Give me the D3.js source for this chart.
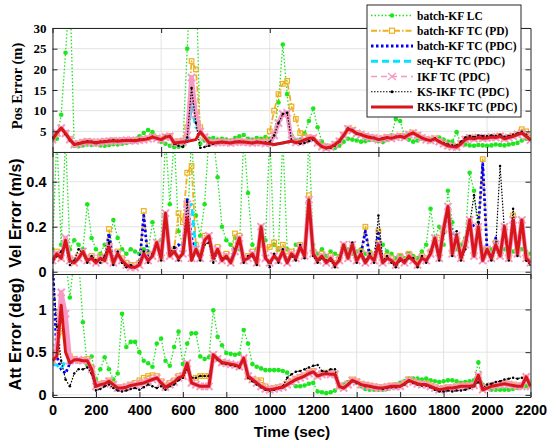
<!DOCTYPE html>
<html><head><meta charset="utf-8">
<script src="https://cdn.jsdelivr.net/npm/d3@7"></script>
<style>body{margin:0;background:#fff} svg{display:block}</style>
</head><body>
<svg id="c" width="550" height="446"></svg>
<script>
// ---------------- DATA (sampled every 20 s, t = 0 ... 2200) ----------------
const sampleTimes = d3.range(0, 2201, 20);
const timeTicks = [0,200,400,600,800,1000,1200,1400,1600,1800,2000,2200];
const coarseTimeTicks = [0,500,1000,1500,2000];
const posTicks = [0,5,10,15,20,25,30];
const velTicks = [0,0.2,0.4];
const attTicks = [0,0.5,1];
const legendLabels = ['batch-KF LC','batch-KF TC (PD)','batch-KF TC (PDC)','seq-KF TC (PDC)','IKF TC (PDC)','KS-IKF TC (PDC)','RKS-IKF TC (PDC)'];

// Position error (m)
const lcPos = [3.0,3.2,9.0,24,40,1.5,1.4,1.6,1.8,1.7,
 1.8,1.6,1.5,1.7,1.9,1.8,2.0,2.2,2.5,3.0,
 3.8,4.6,5.3,4.8,3.5,2.5,2.0,1.5,1.2,1.3,
 1.5,25,45,45,2.0,2.8,3.2,3.4,3.0,3.2,
 3.0,2.8,3.4,3.8,4.1,3.2,3.0,3.4,3.2,3.6,
 3.2,4.0,12,26,14,4.0,2.8,3.0,4.5,7.5,
 10.5,6.0,2.5,1.5,1.2,1.0,1.5,2.5,3.2,3.0,
 2.8,2.5,2.6,2.9,3.0,2.6,2.4,3.0,4.0,8.0,
 7.5,4.0,3.0,2.5,2.8,3.2,3.0,2.6,3.0,3.5,
 3.0,2.5,2.5,4.8,2.0,1.8,1.6,1.5,1.7,1.6,
 1.5,1.6,1.8,1.7,1.6,1.8,2.0,2.2,2.8,3.2,
 3.0];
const pdPos = [3.2,4.5,5.6,4.6,3.2,2.0,2.1,2.4,2.6,2.5,
 2.3,2.5,2.6,2.7,2.8,2.7,2.8,2.9,2.9,2.8,
 3.0,3.1,3.3,3.7,3.4,3.1,3.7,3.9,2.5,2.6,
 2.8,6.0,22,20,6.0,3.6,2.4,2.3,2.4,2.5,
 2.4,2.3,2.5,2.6,2.5,2.4,2.3,2.5,2.4,2.6,
 5.0,10,14,16.5,17.2,11,8.0,4.6,3.8,3.5,
 3.4,2.3,1.4,1.1,1.3,1.9,2.7,4.1,5.7,5.3,
 4.6,4.3,3.9,3.6,3.5,3.1,3.3,3.6,3.4,3.7,
 3.9,3.6,4.3,4.7,4.1,3.5,3.1,2.9,3.3,2.6,
 2.1,1.6,1.4,1.3,2.1,3.1,3.5,3.3,3.6,3.4,
 3.5,3.7,3.6,3.9,3.3,3.6,3.9,4.3,5.5,5.0,
 3.5];
const batchPos = [3.0,4.6,5.8,4.5,3.0,1.8,2.0,2.3,2.5,2.4,
 2.2,2.4,2.5,2.6,2.7,2.6,2.7,2.8,2.8,2.7,
 2.9,3.0,3.2,3.6,3.3,3.0,3.6,3.8,2.2,2.3,
 2.4,3.0,13,8.0,4.9,3.6,2.3,2.2,2.3,2.4,
 2.3,2.2,2.4,2.5,2.4,2.3,2.2,2.4,2.3,2.1,
 2.0,1.8,2.0,2.2,2.4,2.6,2.3,2.5,2.9,3.3,
 3.4,2.2,1.3,1.0,1.2,1.8,2.6,4.0,5.6,5.2,
 4.5,4.2,3.8,3.5,3.4,3.0,3.2,3.5,3.3,3.6,
 3.8,3.5,4.2,4.6,4.0,3.4,3.0,2.8,3.2,2.5,
 2.0,1.5,1.3,1.2,2.0,3.0,3.4,3.2,3.5,3.3,
 3.4,3.6,3.5,3.8,3.2,3.5,3.8,4.2,4.6,3.8,
 2.9];
const seqPos = [3.0,4.6,5.8,4.5,3.0,1.8,2.0,2.3,2.5,2.4,
 2.2,2.4,2.5,2.6,2.7,2.6,2.7,2.8,2.8,2.7,
 2.9,3.0,3.2,3.6,3.3,3.0,3.6,3.8,2.2,2.3,
 2.4,3.0,11,6.0,4.9,3.6,2.3,2.2,2.3,2.4,
 2.3,2.2,2.4,2.5,2.4,2.3,2.2,2.4,2.3,2.1,
 2.0,1.8,2.0,2.2,2.4,2.6,2.3,2.5,2.9,3.3,
 3.4,2.2,1.3,1.0,1.2,1.8,2.6,4.0,5.6,5.2,
 4.5,4.2,3.8,3.5,3.4,3.0,3.2,3.5,3.3,3.6,
 3.8,3.5,4.2,4.6,4.0,3.4,3.0,2.8,3.2,2.5,
 2.0,1.5,1.3,1.2,2.0,3.0,3.4,3.2,3.5,3.3,
 3.4,3.6,3.5,3.8,3.2,3.5,3.8,4.2,4.6,3.8,
 2.9];
const ikfPos = [3.0,4.6,5.8,4.5,3.0,1.8,2.0,2.3,2.5,2.4,
 2.2,2.4,2.5,2.6,2.7,2.6,2.7,2.8,2.8,2.7,
 2.9,3.0,3.2,3.6,3.3,3.0,3.6,3.8,2.2,2.3,
 2.4,4.0,18,9.0,4.9,3.6,2.3,2.2,2.3,2.4,
 2.3,2.2,2.4,2.5,2.4,2.3,2.2,2.4,2.3,2.1,
 2.2,4.0,7.0,9.2,9.5,2.8,2.3,2.5,2.9,3.3,
 3.4,2.2,1.3,1.0,1.2,1.8,2.6,4.0,5.6,5.2,
 4.5,4.2,3.8,3.5,3.4,3.0,3.2,3.5,3.3,3.6,
 3.8,3.5,4.2,4.6,4.0,3.4,3.0,2.8,3.2,2.5,
 2.0,1.5,1.3,1.2,2.0,3.0,3.4,3.2,3.5,3.3,
 3.4,3.6,3.5,3.8,3.2,3.5,3.8,4.2,4.6,3.8,
 2.9];
const ksPos = [3.5,4.8,5.6,4.3,2.8,1.8,2.1,2.4,2.6,2.5,
 2.3,2.5,2.6,2.7,2.9,2.7,2.8,2.9,2.9,2.8,
 3.0,3.1,3.3,3.7,3.4,3.1,3.7,3.9,2.0,1.5,
 1.2,3.5,15.5,7.0,1.0,1.2,1.5,2.0,2.2,2.4,
 2.3,2.2,2.4,2.5,2.4,2.3,2.2,2.4,2.3,2.3,
 2.4,4.0,7.0,9.2,9.5,2.8,2.3,2.0,2.2,2.6,
 3.0,2.2,1.3,0.9,1.0,1.6,2.5,4.0,5.7,5.3,
 4.5,4.2,3.9,3.6,3.4,3.1,3.3,3.5,3.4,3.7,
 3.8,3.5,4.2,4.6,4.0,3.4,3.0,2.8,3.3,2.6,
 2.2,1.8,1.6,1.6,2.5,3.5,3.9,3.6,4.0,3.9,
 3.8,4.0,3.9,4.2,3.7,3.9,4.2,4.5,4.9,4.2,
 3.0];
const rksPos = [3.0,4.6,5.8,4.5,3.0,1.8,2.0,2.3,2.5,2.4,
 2.2,2.4,2.5,2.6,2.7,2.6,2.7,2.8,2.8,2.7,
 2.9,3.0,3.2,3.6,3.3,3.0,3.6,3.8,2.2,2.3,
 2.4,2.5,2.8,3.0,4.9,3.6,2.3,2.2,2.3,2.4,
 2.3,2.2,2.4,2.5,2.4,2.3,2.2,2.4,2.3,2.1,
 2.0,1.8,2.0,2.2,2.4,2.6,2.3,2.5,2.9,3.3,
 3.4,2.2,1.3,1.0,1.2,1.8,2.6,4.0,5.6,5.2,
 4.5,4.2,3.8,3.5,3.4,3.0,3.2,3.5,3.3,3.6,
 3.8,3.5,4.2,4.6,4.0,3.4,3.0,2.8,3.2,2.5,
 2.0,1.5,1.3,1.2,2.0,3.0,3.4,3.2,3.5,3.3,
 3.4,3.6,3.5,3.8,3.2,3.5,3.8,4.2,4.6,3.8,
 2.9];

// Velocity error (m/s)
const lcVel = [0.10,0.60,0.12,0.60,0.10,0.14,0.12,0.10,0.30,0.15,
 0.10,0.08,0.12,0.10,0.23,0.15,0.10,0.08,0.10,0.09,
 0.08,0.10,0.09,0.22,0.12,0.14,0.60,0.30,0.60,0.18,
 0.12,0.18,0.60,0.25,0.16,0.30,0.60,0.60,0.42,0.20,
 0.14,0.12,0.15,0.10,0.60,0.35,0.12,0.10,0.20,0.14,
 0.60,0.12,0.10,0.60,0.10,0.08,0.12,0.10,0.09,0.60,
 0.12,0.08,0.10,0.07,0.09,0.08,0.07,0.09,0.10,0.08,
 0.09,0.10,0.08,0.09,0.07,0.10,0.12,0.09,0.08,0.06,
 0.07,0.06,0.08,0.07,0.06,0.09,0.12,0.28,0.15,0.20,
 0.12,0.36,0.22,0.10,0.12,0.15,0.44,0.36,0.15,0.10,
 0.08,0.10,0.12,0.09,0.10,0.08,0.09,0.12,0.10,0.09,
 0.08];
const pdVel = [0.06,0.09,0.07,0.12,0.06,0.05,0.07,0.08,0.06,0.07,
 0.05,0.07,0.06,0.19,0.05,0.09,0.06,0.04,0.03,0.03,
 0.04,0.27,0.06,0.08,0.12,0.07,0.20,0.08,0.10,0.26,
 0.22,0.44,0.47,0.12,0.08,0.16,0.14,0.07,0.11,0.06,
 0.08,0.05,0.17,0.16,0.06,0.07,0.09,0.05,0.12,0.10,
 0.11,0.13,0.10,0.12,0.09,0.09,0.07,0.12,0.08,0.34,
 0.09,0.06,0.08,0.05,0.07,0.04,0.06,0.11,0.07,0.11,
 0.06,0.09,0.20,0.08,0.06,0.18,0.05,0.07,0.06,0.04,
 0.07,0.05,0.08,0.06,0.04,0.07,0.06,0.09,0.14,0.15,
 0.18,0.26,0.09,0.15,0.07,0.13,0.22,0.08,0.19,0.50,
 0.10,0.07,0.13,0.08,0.19,0.07,0.25,0.09,0.22,0.07,
 0.05];
const batchVel = [0.05,0.08,0.06,0.13,0.05,0.04,0.06,0.09,0.05,0.06,
 0.04,0.06,0.05,0.17,0.04,0.08,0.05,0.03,0.02,0.02,
 0.03,0.25,0.05,0.07,0.13,0.06,0.25,0.07,0.09,0.12,
 0.10,0.32,0.15,0.10,0.06,0.14,0.16,0.06,0.10,0.05,
 0.07,0.04,0.11,0.15,0.05,0.06,0.08,0.04,0.20,0.06,
 0.04,0.07,0.05,0.09,0.04,0.08,0.06,0.11,0.07,0.30,
 0.08,0.05,0.07,0.04,0.06,0.03,0.05,0.12,0.06,0.12,
 0.05,0.08,0.18,0.07,0.05,0.17,0.04,0.06,0.05,0.03,
 0.06,0.04,0.07,0.05,0.03,0.06,0.05,0.08,0.15,0.06,
 0.19,0.29,0.16,0.16,0.06,0.12,0.23,0.20,0.20,0.48,
 0.10,0.06,0.15,0.07,0.20,0.06,0.23,0.08,0.23,0.06,
 0.04];
const seqVel = [0.05,0.08,0.06,0.14,0.05,0.04,0.06,0.09,0.05,0.06,
 0.04,0.06,0.05,0.11,0.04,0.08,0.05,0.03,0.02,0.02,
 0.03,0.08,0.05,0.07,0.13,0.06,0.26,0.07,0.09,0.06,
 0.08,0.28,0.30,0.10,0.06,0.14,0.16,0.06,0.10,0.05,
 0.07,0.04,0.09,0.15,0.05,0.06,0.08,0.04,0.20,0.06,
 0.04,0.07,0.05,0.09,0.04,0.08,0.06,0.11,0.07,0.32,
 0.08,0.05,0.07,0.04,0.06,0.03,0.05,0.12,0.06,0.12,
 0.05,0.08,0.04,0.07,0.05,0.12,0.04,0.06,0.05,0.03,
 0.06,0.04,0.07,0.05,0.03,0.06,0.05,0.08,0.15,0.06,
 0.19,0.29,0.08,0.16,0.06,0.12,0.23,0.07,0.20,0.05,
 0.10,0.06,0.12,0.07,0.20,0.06,0.23,0.08,0.23,0.06,
 0.04];
const ikfVel = [0.05,0.08,0.06,0.15,0.05,0.04,0.06,0.09,0.05,0.06,
 0.04,0.06,0.05,0.11,0.04,0.08,0.05,0.03,0.02,0.02,
 0.03,0.08,0.05,0.07,0.13,0.06,0.26,0.07,0.09,0.06,
 0.08,0.30,0.06,0.10,0.06,0.14,0.16,0.06,0.10,0.05,
 0.07,0.04,0.09,0.15,0.05,0.06,0.08,0.04,0.20,0.06,
 0.04,0.07,0.05,0.09,0.04,0.08,0.06,0.11,0.07,0.32,
 0.08,0.05,0.07,0.04,0.06,0.03,0.05,0.12,0.06,0.12,
 0.05,0.08,0.04,0.07,0.05,0.12,0.04,0.06,0.05,0.03,
 0.06,0.04,0.07,0.05,0.03,0.06,0.05,0.08,0.15,0.06,
 0.19,0.29,0.08,0.16,0.06,0.12,0.23,0.07,0.20,0.05,
 0.10,0.06,0.12,0.07,0.20,0.06,0.23,0.08,0.23,0.06,
 0.04];
const ksVel = [0.04,0.07,0.09,0.12,0.03,0.05,0.10,0.08,0.04,0.07,
 0.05,0.04,0.07,0.13,0.03,0.09,0.04,0.02,0.03,0.02,
 0.04,0.09,0.04,0.08,0.12,0.05,0.24,0.08,0.11,0.05,
 0.09,0.31,0.07,0.09,0.05,0.12,0.13,0.04,0.09,0.06,
 0.06,0.05,0.10,0.14,0.04,0.07,0.07,0.03,0.18,0.07,
 0.02,0.08,0.04,0.10,0.05,0.07,0.05,0.12,0.06,0.30,
 0.07,0.04,0.06,0.05,0.05,0.02,0.06,0.11,0.07,0.13,
 0.04,0.09,0.05,0.08,0.04,0.25,0.05,0.07,0.04,0.02,
 0.05,0.05,0.06,0.06,0.02,0.07,0.04,0.09,0.13,0.05,
 0.17,0.27,0.07,0.18,0.05,0.10,0.21,0.34,0.22,0.06,
 0.09,0.05,0.11,0.47,0.18,0.05,0.28,0.07,0.21,0.05,
 0.03];
const rksVel = [0.05,0.08,0.06,0.14,0.05,0.04,0.06,0.09,0.05,0.06,
 0.04,0.06,0.05,0.11,0.04,0.08,0.05,0.03,0.02,0.02,
 0.03,0.08,0.05,0.07,0.13,0.06,0.26,0.07,0.09,0.06,
 0.08,0.24,0.05,0.10,0.06,0.14,0.16,0.06,0.10,0.05,
 0.07,0.04,0.09,0.15,0.05,0.06,0.08,0.04,0.20,0.06,
 0.04,0.07,0.05,0.09,0.04,0.08,0.06,0.11,0.07,0.32,
 0.08,0.05,0.07,0.04,0.06,0.03,0.05,0.12,0.06,0.12,
 0.05,0.08,0.04,0.07,0.05,0.12,0.04,0.06,0.05,0.03,
 0.06,0.04,0.07,0.05,0.03,0.06,0.05,0.08,0.15,0.06,
 0.19,0.29,0.08,0.16,0.06,0.12,0.23,0.07,0.20,0.05,
 0.10,0.06,0.12,0.07,0.20,0.06,0.23,0.08,0.23,0.06,
 0.04];

// Attitude error (deg)
const lcAtt = [1.60,1.60,1.60,1.60,1.14,1.60,1.60,0.85,0.35,0.45,
 0.18,0.30,0.44,0.30,0.18,0.25,0.95,0.56,0.62,0.62,
 0.50,0.40,0.37,0.33,0.60,0.66,0.40,0.34,0.56,0.74,
 0.36,0.60,0.72,0.72,0.45,0.42,0.44,0.99,0.68,0.58,
 0.49,0.48,0.47,0.48,0.76,0.60,0.36,0.33,0.31,0.29,
 0.29,0.29,0.29,0.28,0.26,0.14,0.10,0.10,0.11,0.13,
 0.14,0.04,0.03,0.02,0.03,0.05,0.09,0.12,0.15,0.17,
 0.14,0.10,0.07,0.06,0.06,0.06,0.06,0.07,0.10,0.12,
 0.14,0.16,0.19,0.19,0.19,0.18,0.19,0.17,0.16,0.15,
 0.16,0.17,0.17,0.16,0.14,0.15,0.16,0.17,0.38,0.12,
 0.08,0.06,0.06,0.06,0.06,0.06,0.07,0.08,0.09,0.10,
 0.12];
const pdAtt = [0.40,0.50,0.75,0.68,0.45,0.42,0.40,0.41,0.42,0.32,
 0.12,0.13,0.14,0.17,0.13,0.09,0.09,0.10,0.12,0.14,
 0.17,0.20,0.22,0.23,0.22,0.16,0.11,0.14,0.17,0.22,
 0.23,0.35,0.18,0.20,0.22,0.22,0.22,0.45,0.42,0.38,
 0.37,0.36,0.35,0.33,0.42,0.21,0.18,0.17,0.17,0.10,
 0.07,0.08,0.09,0.10,0.13,0.16,0.19,0.21,0.23,0.26,
 0.28,0.23,0.25,0.26,0.25,0.25,0.11,0.09,0.13,0.18,
 0.16,0.13,0.12,0.11,0.10,0.09,0.09,0.10,0.11,0.11,
 0.11,0.14,0.18,0.16,0.14,0.13,0.13,0.11,0.09,0.07,
 0.08,0.09,0.09,0.10,0.11,0.11,0.11,0.12,0.22,0.07,
 0.09,0.11,0.12,0.13,0.14,0.13,0.12,0.11,0.11,0.20,
 0.11];
const batchAtt = [1.60,0.45,0.30,0.25,0.37,0.41,0.41,0.40,0.40,0.30,
 0.10,0.12,0.13,0.16,0.12,0.08,0.08,0.09,0.11,0.12,
 0.13,0.14,0.16,0.18,0.20,0.14,0.09,0.12,0.15,0.20,
 0.22,0.37,0.14,0.12,0.10,0.10,0.10,0.47,0.42,0.38,
 0.37,0.36,0.35,0.33,0.43,0.22,0.18,0.14,0.10,0.07,
 0.06,0.07,0.08,0.09,0.12,0.15,0.18,0.20,0.22,0.25,
 0.27,0.22,0.24,0.25,0.24,0.24,0.10,0.08,0.12,0.17,
 0.15,0.12,0.11,0.10,0.09,0.08,0.08,0.09,0.10,0.10,
 0.10,0.13,0.17,0.15,0.13,0.12,0.12,0.10,0.08,0.06,
 0.07,0.08,0.08,0.09,0.10,0.10,0.10,0.11,0.23,0.06,
 0.08,0.10,0.11,0.12,0.13,0.12,0.11,0.10,0.10,0.21,
 0.10];
const seqAtt = [0.35,0.35,0.30,0.40,0.37,0.41,0.41,0.40,0.40,0.30,
 0.10,0.12,0.13,0.16,0.12,0.08,0.08,0.09,0.11,0.12,
 0.13,0.14,0.16,0.18,0.20,0.14,0.09,0.12,0.15,0.20,
 0.22,0.37,0.14,0.12,0.10,0.10,0.10,0.47,0.42,0.38,
 0.37,0.36,0.35,0.33,0.43,0.22,0.18,0.14,0.10,0.07,
 0.06,0.07,0.08,0.09,0.12,0.15,0.18,0.20,0.22,0.25,
 0.27,0.22,0.24,0.25,0.24,0.24,0.10,0.08,0.12,0.17,
 0.15,0.12,0.11,0.10,0.09,0.08,0.08,0.09,0.10,0.10,
 0.10,0.13,0.17,0.15,0.13,0.12,0.12,0.10,0.08,0.06,
 0.07,0.08,0.08,0.09,0.10,0.10,0.10,0.11,0.23,0.06,
 0.08,0.10,0.11,0.12,0.13,0.12,0.11,0.10,0.10,0.21,
 0.10];
const ikfAtt = [0.40,0.55,1.20,0.95,0.40,0.41,0.41,0.40,0.40,0.30,
 0.10,0.12,0.13,0.16,0.12,0.08,0.08,0.09,0.11,0.12,
 0.13,0.14,0.16,0.18,0.20,0.14,0.09,0.12,0.15,0.20,
 0.22,0.37,0.14,0.12,0.10,0.10,0.10,0.47,0.42,0.38,
 0.37,0.36,0.35,0.33,0.43,0.22,0.18,0.14,0.10,0.07,
 0.06,0.07,0.08,0.09,0.12,0.15,0.18,0.20,0.22,0.25,
 0.27,0.22,0.24,0.25,0.24,0.24,0.10,0.08,0.12,0.17,
 0.15,0.12,0.11,0.10,0.09,0.08,0.08,0.09,0.10,0.10,
 0.10,0.13,0.17,0.15,0.13,0.12,0.12,0.10,0.08,0.06,
 0.07,0.08,0.08,0.09,0.10,0.10,0.10,0.11,0.23,0.06,
 0.08,0.10,0.11,0.12,0.13,0.12,0.11,0.10,0.10,0.21,
 0.10];
const ksAtt = [1.50,0.80,0.40,0.18,0.10,0.25,0.30,0.30,0.32,0.25,
 0.05,0.07,0.10,0.12,0.08,0.05,0.04,0.05,0.07,0.08,
 0.06,0.09,0.12,0.10,0.08,0.10,0.06,0.10,0.12,0.17,
 0.20,0.30,0.20,0.20,0.22,0.22,0.22,0.44,0.41,0.37,
 0.36,0.35,0.34,0.32,0.41,0.20,0.16,0.12,0.09,0.06,
 0.05,0.06,0.08,0.10,0.20,0.24,0.27,0.28,0.30,0.32,
 0.34,0.35,0.28,0.27,0.30,0.30,0.10,0.08,0.12,0.16,
 0.14,0.12,0.10,0.10,0.09,0.08,0.07,0.08,0.09,0.09,
 0.10,0.12,0.16,0.14,0.12,0.11,0.11,0.09,0.06,0.04,
 0.04,0.05,0.04,0.05,0.05,0.06,0.08,0.10,0.15,0.08,
 0.12,0.13,0.15,0.16,0.18,0.19,0.20,0.19,0.20,0.19,
 0.12];
const rksAtt = [0.40,0.45,1.05,0.50,0.37,0.41,0.41,0.40,0.40,0.30,
 0.10,0.12,0.13,0.16,0.12,0.08,0.08,0.09,0.11,0.12,
 0.13,0.14,0.16,0.18,0.20,0.14,0.09,0.12,0.15,0.20,
 0.22,0.37,0.14,0.12,0.10,0.10,0.10,0.47,0.42,0.38,
 0.37,0.36,0.35,0.33,0.43,0.22,0.18,0.14,0.10,0.07,
 0.06,0.07,0.08,0.09,0.12,0.15,0.18,0.20,0.22,0.25,
 0.27,0.22,0.24,0.25,0.24,0.24,0.10,0.08,0.12,0.17,
 0.15,0.12,0.11,0.10,0.09,0.08,0.08,0.09,0.10,0.10,
 0.10,0.13,0.17,0.15,0.13,0.12,0.12,0.10,0.08,0.06,
 0.07,0.08,0.08,0.09,0.10,0.10,0.10,0.11,0.23,0.06,
 0.08,0.10,0.11,0.12,0.13,0.12,0.11,0.10,0.10,0.21,
 0.10];

// ---------------- STYLES ----------------
const C = {green:'#1ee61e', orange:'#edb120', blue:'#0000ff', cyan:'#00e5ff', pink:'#f799c4', black:'#000', red:'#d8161a', axis:'#262626', grid:'#dcdcdc'};
const styles = [
  {color:C.green, width:1.3, dash:'1.5,2', marker:'dot', r:2.3},
  {color:C.orange, width:1.8, dash:'6,2,1.5,2', marker:'square'},
  {color:C.blue, width:2.8, dash:'2.5,2.5'},
  {color:C.cyan, width:2.8, dash:'7,4'},
  {color:C.pink, width:4.5, dash:null, marker:'x'},
  {color:C.black, width:1.2, dash:'1.5,1.5', marker:'dot', r:1.25},
  {color:C.red, width:3, dash:null}
];

const svg = d3.select('#c');
const x = d3.scaleLinear().domain([0,2200]).range([52.5,530.5]);
const X0 = 52.5, X1 = 530.5;

const panels = [
  {id:'pos', y:d3.scaleLinear().domain([0,30]).range([152,28]), yTicks:posTicks, yLabelTicks:posTicks.filter(v=>v>0),
   xTicks:coarseTimeTicks, xGrid:coarseTimeTicks, yGrid:posTicks, xLabels:false,
   tickFont:'"Liberation Serif","Times New Roman",serif', tickSize:13,
   label:'Pos Error (m)', labelFont:'"Liberation Serif","Times New Roman",serif', labelSize:14.5, labelY:86, labelX:22,
   series:[lcPos,pdPos,batchPos,seqPos,ikfPos,ksPos,rksPos]},
  {id:'vel', y:d3.scaleLinear().domain([-0.01,0.532]).range([274,152]), yTicks:velTicks, yLabelTicks:velTicks,
   xTicks:coarseTimeTicks, xGrid:coarseTimeTicks, yGrid:velTicks, xLabels:false,
   tickFont:'"Liberation Sans",Arial,sans-serif', tickSize:14.5,
   label:'Vel Error (m/s)', labelFont:'"Liberation Sans",Arial,sans-serif', labelSize:16, labelY:213, labelX:21,
   series:[lcVel,pdVel,batchVel,seqVel,ikfVel,ksVel,rksVel]},
  {id:'att', y:d3.scaleLinear().domain([-0.025,1.415]).range([397,274]), yTicks:attTicks, yLabelTicks:attTicks,
   xTicks:timeTicks, xGrid:timeTicks, yGrid:attTicks, xLabels:true,
   tickFont:'"Liberation Sans",Arial,sans-serif', tickSize:14.5,
   label:'Att Error (deg)', labelFont:'"Liberation Sans",Arial,sans-serif', labelSize:16.5, labelY:334, labelX:21,
   series:[lcAtt,pdAtt,batchAtt,seqAtt,ikfAtt,ksAtt,rksAtt]}
];

panels.forEach(p => {
  const y = p.y;
  const [yb, yt] = y.range();
  const g = svg.append('g');
  const clipId = 'clip-' + p.id;
  svg.append('clipPath').attr('id', clipId).append('rect')
    .attr('x', X0).attr('y', yt).attr('width', X1 - X0).attr('height', yb - yt);

  // grid
  const grid = g.append('g');
  grid.selectAll('line.gx').data(p.xGrid).join('line')
    .attr('x1', d=>x(d)).attr('x2', d=>x(d)).attr('y1', yt).attr('y2', yb)
    .attr('stroke', C.grid).attr('stroke-width', 0.8);
  grid.selectAll('line.gy').data(p.yGrid).join('line')
    .attr('x1', X0).attr('x2', X1).attr('y1', d=>y(d)).attr('y2', d=>y(d))
    .attr('stroke', C.grid).attr('stroke-width', 0.8);

  // series
  const plot = g.append('g').attr('clip-path', `url(#${clipId})`);
  const line = d3.line().x((d,i)=>x(sampleTimes[i])).y(d=>y(d));
  p.series.forEach((vals, si) => {
    const st = styles[si];
    const sg = plot.append('g');
    sg.append('path').attr('d', line(vals)).attr('fill','none')
      .attr('stroke', st.color).attr('stroke-width', st.width)
      .attr('stroke-linejoin','round')
      .attr('stroke-dasharray', st.dash);
    if (st.marker === 'dot') {
      sg.selectAll('circle').data(vals).join('circle')
        .attr('cx', (d,i)=>x(sampleTimes[i])).attr('cy', d=>y(d)).attr('r', st.r)
        .attr('fill', st.color);
    } else if (st.marker === 'square') {
      sg.selectAll('rect').data(vals).join('rect')
        .attr('x', (d,i)=>x(sampleTimes[i])-2.3).attr('y', d=>y(d)-2.3)
        .attr('width', 4.6).attr('height', 4.6)
        .attr('fill','none').attr('stroke', st.color).attr('stroke-width', 1.2);
    } else if (st.marker === 'x') {
      sg.selectAll('path.xm').data(vals).join('path').attr('class','xm')
        .attr('d', (d,i)=>{ const cx = x(sampleTimes[i]), cy = y(d), h = 3.6;
          return `M${cx-h},${cy-h}L${cx+h},${cy+h}M${cx-h},${cy+h}L${cx+h},${cy-h}`; })
        .attr('stroke', st.color).attr('stroke-width', 2).attr('fill','none');
    }
  });

  // axes (inward ticks on all four sides)
  const tl = 5;
  const left = d3.axisLeft(y).tickValues(p.yTicks).tickSizeInner(-tl).tickSizeOuter(0).tickPadding(6)
    .tickFormat(d => p.yLabelTicks.includes(d) ? d3.format('~g')(d) : '');
  const right = d3.axisRight(y).tickValues(p.yTicks).tickSizeInner(-tl).tickSizeOuter(0).tickFormat('');
  const bottom = d3.axisBottom(x).tickValues(p.xTicks).tickSizeInner(-tl).tickSizeOuter(0).tickPadding(8)
    .tickFormat(p.xLabels ? d3.format('d') : '');
  const top = d3.axisTop(x).tickValues(p.xTicks).tickSizeInner(-tl).tickSizeOuter(0).tickFormat('');

  const axG = [
    g.append('g').attr('transform', `translate(${X0},0)`).call(left),
    g.append('g').attr('transform', `translate(${X1},0)`).call(right),
    g.append('g').attr('transform', `translate(0,${yb})`).call(bottom),
    g.append('g').attr('transform', `translate(0,${yt})`).call(top)
  ];
  axG.forEach(a => {
    a.selectAll('path.domain').attr('stroke', C.axis).attr('stroke-width', 1);
    a.selectAll('.tick line').attr('stroke', C.axis).attr('stroke-width', 1);
    a.selectAll('text').attr('fill', '#000').style('font-family', p.tickFont)
      .style('font-weight', 'bold').style('font-size', p.tickSize + 'px');
  });

  // y label
  svg.append('text').attr('transform', `translate(${p.labelX},${p.labelY}) rotate(-90)`)
    .attr('text-anchor','middle').style('font-family', p.labelFont).style('font-weight','bold')
    .style('font-size', p.labelSize + 'px').attr('fill','#000').text(p.label);
});

// x label
svg.append('text').attr('x', 292).attr('y', 437).attr('text-anchor','middle')
  .style('font-family','"Liberation Sans",Arial,sans-serif').style('font-weight','bold')
  .style('font-size','15.5px').attr('fill','#000').text('Time (sec)');

// legend
const leg = svg.append('g');
leg.append('rect').attr('x', 367).attr('y', 5).attr('width', 154).attr('height', 112)
  .attr('fill','#fff').attr('stroke', C.axis).attr('stroke-width', 1);
const ly = d3.scaleLinear().domain([0, legendLabels.length - 1]).range([15.5, 107]);
legendLabels.forEach((lab, i) => {
  const st = styles[i];
  const yy = ly(i);
  const w = i === 4 ? 1.6 : Math.min(st.width, 3);
  leg.append('line').attr('x1', 371).attr('x2', 413).attr('y1', yy).attr('y2', yy)
    .attr('stroke', st.color).attr('stroke-width', w)
    .attr('stroke-dasharray', i === 4 ? '6,4' : st.dash);
  if (st.marker === 'dot') {
    leg.append('circle').attr('cx', 392).attr('cy', yy).attr('r', i === 0 ? 2.2 : 1.6).attr('fill', st.color);
  } else if (st.marker === 'square') {
    leg.append('rect').attr('x', 389.5).attr('y', yy - 2.5).attr('width', 5).attr('height', 5)
      .attr('fill','#fff').attr('stroke', st.color).attr('stroke-width', 1.2);
  } else if (st.marker === 'x') {
    leg.append('path').attr('d', `M388,${yy-3.5}L396,${yy+3.5}M388,${yy+3.5}L396,${yy-3.5}`)
      .attr('stroke', st.color).attr('stroke-width', 1.3);
  }
  leg.append('text').attr('x', 417).attr('y', yy).attr('dy','0.36em')
    .style('font-family','"Liberation Serif","Times New Roman",serif').style('font-weight','bold')
    .style('font-size','11.5px').attr('fill','#000').text(lab);
});
</script>
</body></html>
